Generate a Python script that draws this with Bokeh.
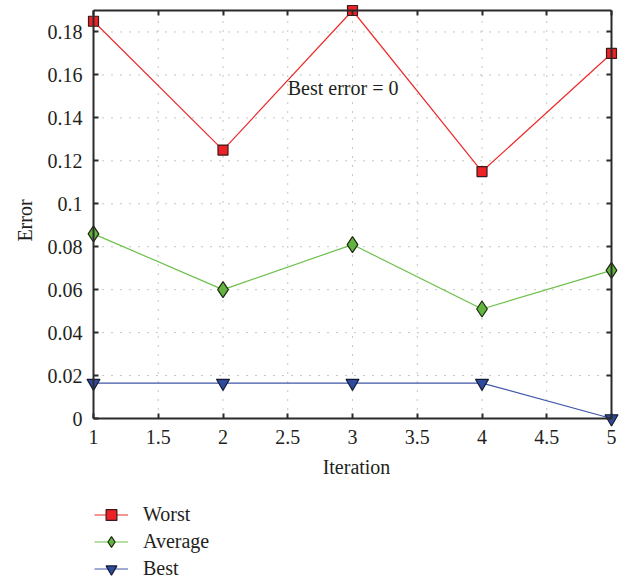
from bokeh.plotting import figure
from bokeh.models import Range1d, LinearAxis, FixedTicker, Legend, LegendItem
from bokeh.embed import file_html
from bokeh.resources import INLINE
from bokeh.core.properties import value

# ---- data ----
iterations = [1, 2, 3, 4, 5]
worst = [0.185, 0.125, 0.19, 0.115, 0.17]
average = [0.086, 0.060, 0.081, 0.051, 0.069]
best = [0.0165, 0.0165, 0.0165, 0.0165, 0.0]

x_ticks = [1, 1.5, 2, 2.5, 3, 3.5, 4, 4.5, 5]
x_tick_labels = ["1", "1.5", "2", "2.5", "3", "3.5", "4", "4.5", "5"]
y_ticks = [0, 0.02, 0.04, 0.06, 0.08, 0.1, 0.12, 0.14, 0.16, 0.18]
y_tick_labels = ["0", "0.02", "0.04", "0.06", "0.08", "0.1", "0.12", "0.14", "0.16", "0.18"]
x_min, x_max = 1, 5
y_min, y_max = 0, 0.19
x_title = "Iteration"
y_title = "Error"

note_text = "Best error = 0"
note_x, note_y = 2.5, 0.154

FONT = "Liberation Serif"
FS = "20px"
TXT = "#231f20"
AX = "#2b2b2b"

W, H = 624, 580
# pixel position of the axes box inside the canvas
box_l, box_r, box_t, box_b = 93, 611, 10, 418
kx = (x_max - x_min) / (box_r - box_l)
ky = (y_max - y_min) / (box_b - box_t)
x_range = Range1d(x_min - box_l * kx, x_max + (W - box_r) * kx)
y_range = Range1d(y_min - (H - box_b) * ky, y_max + box_t * ky)

p = figure(width=W, height=H, x_range=x_range, y_range=y_range,
           output_backend="svg", toolbar_location=None,
           x_axis_location=None, y_axis_location=None,
           min_border=0)
p.outline_line_color = None
p.xgrid.visible = False
p.ygrid.visible = False
p.background_fill_color = "white"
p.border_fill_color = "white"


def frame_axis(ticks, loc, bounds):
    ax = LinearAxis(ticker=FixedTicker(ticks=ticks), fixed_location=loc, bounds=bounds,
                    major_label_overrides={t: "" for t in ticks})
    ax.axis_line_color = AX
    ax.axis_line_width = 2
    ax.major_tick_line_color = AX
    ax.major_tick_line_width = 2
    ax.major_tick_in = 5
    ax.major_tick_out = 0
    ax.minor_tick_line_color = None
    ax.major_label_text_font_size = "0px"
    ax.major_label_standoff = 0
    return ax


p.add_layout(frame_axis(x_ticks, y_min, (x_min, x_max)), "below")
p.add_layout(frame_axis(x_ticks, y_max, (x_min, x_max)), "above")
p.add_layout(frame_axis(y_ticks, x_min, (y_min, y_max)), "left")
p.add_layout(frame_axis(y_ticks, x_max, (y_min, y_max)), "right")

# dotted grid
p.segment(x0=x_ticks, y0=[y_min] * len(x_ticks), x1=x_ticks, y1=[y_max] * len(x_ticks),
          line_color="#8c8c8c", line_width=1, line_dash="1 8", level="underlay")
p.segment(x0=[x_min] * len(y_ticks), y0=y_ticks, x1=[x_max] * len(y_ticks), y1=y_ticks,
          line_color="#8c8c8c", line_width=1, line_dash="1 8", level="underlay")

# tick labels and axis titles
p.text(x=[x_min] * len(y_ticks), y=y_ticks, text=y_tick_labels, text_font=value(FONT),
       text_font_size=FS, text_color=TXT, text_align="right", text_baseline="middle",
       x_offset=-11)
p.text(x=x_ticks, y=[y_min] * len(x_ticks), text=x_tick_labels, text_font=value(FONT),
       text_font_size=FS, text_color=TXT, text_align="center", text_baseline="alphabetic",
       y_offset=18)
p.text(x=[(x_min + x_max) / 2], y=[y_min], text=[x_title], text_font=value(FONT),
       text_font_size=FS, text_color=TXT, text_align="center", text_baseline="alphabetic",
       x_offset=4, y_offset=48)
p.text(x=[x_min], y=[(y_min + y_max) / 2], text=[y_title], text_font=value(FONT),
       text_font_size=FS, text_color=TXT, text_align="center", text_baseline="alphabetic",
       angle=1.5707963, x_offset=-69, y_offset=6)

# series
lw = p.line(iterations, worst, line_color="#ee2b2b", line_width=1.2)
sw = p.scatter(iterations, worst, marker="square", size=10, fill_color="#ec2227",
               line_color="#3a1a1a", line_width=1.2)
la = p.line(iterations, average, line_color="#6cc04a", line_width=1.2)
sa = p.scatter(iterations, average, marker="diamond", size=16, fill_color="#63b33f",
               line_color="#1e2a14", line_width=1.2)
lb = p.line(iterations, best, line_color="#4058a8", line_width=1.2)
sb = p.scatter(iterations, best, marker="inverted_triangle", size=13, fill_color="#2e4a9c",
               line_color="#141a30", line_width=1.2)

p.text(x=[note_x], y=[note_y], text=[note_text], text_font=value(FONT),
       text_font_size=FS, text_color=TXT, text_align="left", text_baseline="middle")

legend = Legend(items=[LegendItem(label="Worst", renderers=[lw, sw]),
                       LegendItem(label="Average", renderers=[la, sa]),
                       LegendItem(label="Best", renderers=[lb, sb])],
                location=(94, -2), padding=0, margin=0, spacing=0,
                label_height=27, glyph_height=27, glyph_width=34,
                label_standoff=15, border_line_alpha=0, background_fill_alpha=0,
                label_text_font=FONT, label_text_font_size=FS,
                label_text_color=TXT)
p.add_layout(legend, "center")

open("out.html", "w").write(file_html(p, INLINE))
